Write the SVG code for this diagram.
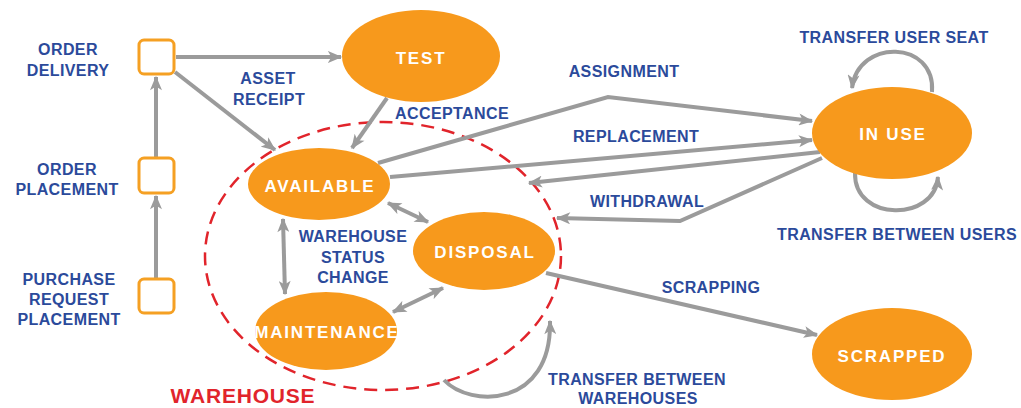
<svg xmlns="http://www.w3.org/2000/svg" width="1021" height="408" viewBox="0 0 1021 408">
<defs>
<marker id="ah" viewBox="0 0 12 10" refX="11" refY="5" markerWidth="15" markerHeight="12" markerUnits="userSpaceOnUse" orient="auto">
<path d="M0,0 L12,5 L0,10 L3,5 z" fill="#9b9b9b"/>
</marker>
<marker id="as" viewBox="0 0 12 10" refX="1" refY="5" markerWidth="15" markerHeight="12" markerUnits="userSpaceOnUse" orient="auto">
<path d="M12,0 L0,5 L12,10 L9,5 z" fill="#9b9b9b"/>
</marker>
<style>
.st{fill:#F7991C;}
.sq{fill:#fff;stroke:#F5A023;stroke-width:3;}
.wl{font-family:"Liberation Sans",Arial,sans-serif;font-weight:bold;font-size:17px;fill:#fff;text-anchor:middle;letter-spacing:1.8px;}
.bl{font-family:"Liberation Sans",Arial,sans-serif;font-weight:bold;font-size:16px;fill:#2B4A9B;text-anchor:middle;letter-spacing:0.4px;}
.c{fill:none;stroke:#9b9b9b;stroke-width:4;marker-end:url(#ah);}
.d{marker-start:url(#as);}
</style>
</defs>
<rect width="1021" height="408" fill="#fff"/>
<ellipse id="warehouse" cx="383" cy="256" rx="178" ry="134" fill="none" stroke="#E1242B" stroke-width="2.5" stroke-dasharray="13,8"/>
<g id="connectors">
<line class="c" x1="156" y1="279" x2="156" y2="196"/>
<line class="c" x1="156" y1="158" x2="156" y2="77"/>
<line class="c" x1="176" y1="57" x2="341" y2="57"/>
<line class="c" x1="175" y1="72" x2="275" y2="150"/>
<line class="c" x1="387" y1="98" x2="352" y2="148"/>
<polyline class="c" points="378,163 608,97 812,121"/>
<line class="c" x1="390" y1="177" x2="812" y2="140"/>
<line class="c" x1="820" y1="152" x2="529" y2="183"/>
<polyline class="c" points="822,158 680,221 557,218"/>
<line class="c d" x1="388" y1="203" x2="428" y2="222"/>
<line class="c d" x1="393" y1="312" x2="443" y2="288"/>
<line class="c d" x1="283" y1="219" x2="285" y2="294"/>
<line class="c" x1="546" y1="273" x2="817" y2="335"/>
<path class="c" d="M932,92 C936,40 858,38 852,88"/>
<path class="c" d="M855,173 C854,222 935,222 938,177"/>
<path class="c" d="M444,380 C470,408 552,408 550,321"/>
</g>
<g id="order-delivery"><rect class="sq" x="139" y="40" width="35" height="34" rx="5"/><text class="bl" x="68" y="55">ORDER</text><text class="bl" x="68" y="76">DELIVERY</text></g>
<g id="order-placement"><rect class="sq" x="139" y="158" width="35" height="35" rx="5"/><text class="bl" x="67" y="175">ORDER</text><text class="bl" x="67" y="195">PLACEMENT</text></g>
<g id="purchase-request"><rect class="sq" x="139" y="279" width="35" height="34" rx="5"/><text class="bl" x="69" y="285">PURCHASE</text><text class="bl" x="69" y="305">REQUEST</text><text class="bl" x="69" y="325">PLACEMENT</text></g>
<g id="test"><ellipse class="st" cx="421" cy="56" rx="79" ry="46"/><text class="wl" x="421" y="64">TEST</text></g>
<g id="available"><ellipse class="st" cx="319" cy="184" rx="71" ry="36"/><text class="wl" x="320" y="192">AVAILABLE</text></g>
<g id="disposal"><ellipse class="st" cx="484" cy="251" rx="71" ry="39"/><text class="wl" x="485" y="258">DISPOSAL</text></g>
<g id="maintenance"><ellipse class="st" cx="326" cy="331" rx="71" ry="39"/><text class="wl" x="327" y="338">MAINTENANCE</text></g>
<g id="in-use"><ellipse class="st" cx="892" cy="133" rx="80" ry="46"/><text class="wl" x="893" y="140">IN USE</text></g>
<g id="scrapped"><ellipse class="st" cx="892" cy="354" rx="80" ry="46"/><text class="wl" x="892" y="362">SCRAPPED</text></g>
<g id="labels">
<text class="bl" x="268" y="84">ASSET</text>
<text class="bl" x="269" y="105">RECEIPT</text>
<text class="bl" x="452" y="119">ACCEPTANCE</text>
<text class="bl" x="624" y="77">ASSIGNMENT</text>
<text class="bl" x="636" y="142">REPLACEMENT</text>
<text class="bl" x="647" y="207">WITHDRAWAL</text>
<text class="bl" x="894" y="43">TRANSFER USER SEAT</text>
<text class="bl" x="897" y="240">TRANSFER BETWEEN USERS</text>
<text class="bl" x="711" y="293">SCRAPPING</text>
<text class="bl" x="637" y="385">TRANSFER BETWEEN</text>
<text class="bl" x="638" y="404">WAREHOUSES</text>
<text class="bl" x="353" y="242">WAREHOUSE</text>
<text class="bl" x="353" y="263">STATUS</text>
<text class="bl" x="353" y="283">CHANGE</text>
<text x="243" y="403" font-family="Liberation Sans, Arial, sans-serif" font-weight="bold" font-size="21" fill="#E1242B" text-anchor="middle" letter-spacing="0.8">WAREHOUSE</text>
</g>
</svg>
